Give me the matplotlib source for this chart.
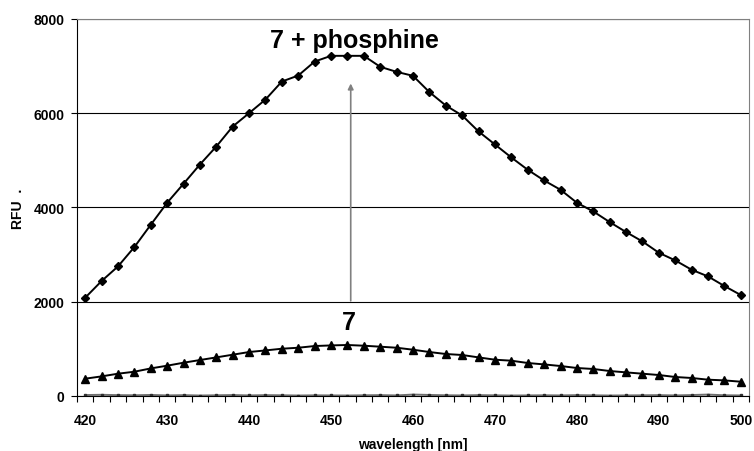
import matplotlib.pyplot as plt
import numpy as np

plt.rcParams['font.family'] = ['Liberation Sans', 'DejaVu Sans']
plt.rcParams['font.weight'] = 'bold'

wavelength = np.arange(420, 501, 2)

# 7 + phosphine
rfu_phos = [2085, 2439, 2749, 3160, 3633, 4100, 4503, 4912, 5294, 5718,
            6002, 6291, 6673, 6800, 7097, 7218, 7218, 7218, 6985, 6878,
            6794, 6448, 6164, 5952, 5613, 5337, 5061, 4800, 4573, 4376,
            4100, 3916, 3690, 3478, 3279, 3039, 2877, 2679, 2537, 2333, 2142]

# 7 alone
rfu_7 = [367, 416, 473, 515, 585, 643, 706, 763, 819, 876,
         933, 967, 1003, 1024, 1060, 1073, 1082, 1067, 1046, 1024,
         982, 933, 891, 870, 819, 770, 749, 700, 670, 636,
         594, 573, 530, 501, 473, 445, 403, 382, 346, 331, 303]

# blank
rfu_blank = [20, 25, 18, 15, 22, 12, 18, 10, 15, 20,
             12, 18, 15, 10, 14, 12, 10, 15, 18, 12,
             30, 22, 15, 12, 18, 14, 10, 12, 15, 12,
             18, 14, 10, 12, 15, 18, 12, 20, 30, 15, 12]

fig = plt.figure(figsize=(7.54, 4.52), dpi=100)
ax = fig.add_axes([0.1021, 0.1217, 0.8913, 0.8341])

ax.plot(wavelength, rfu_blank, color="#707070", lw=1.4, marker="s", ms=1.5,
        mfc="#303030", mec="#303030")
ax.plot(wavelength, rfu_7, color="black", lw=1.4, marker="^", ms=5.5)
ax.plot(wavelength, rfu_phos, color="black", lw=1.4, marker="D", ms=4)

ax.set_xlim(419, 501)
ax.set_ylim(0, 8000)

ax.set_yticks([0, 2000, 4000, 6000, 8000])
ax.grid(axis="y", color="black", lw=0.8)
ax.set_axisbelow(True)

ax.set_xticks(np.arange(420, 501, 10))
ax.set_xticks(np.arange(419, 502, 2), minor=True)
ax.tick_params(axis="x", which="major", length=0, pad=12, labelsize=10)
ax.tick_params(axis="x", which="minor", length=4, direction="out", width=0.8)
ax.tick_params(axis="y", length=4, direction="out", width=0.8, pad=5, labelsize=10)

for lab in ax.get_xticklabels() + ax.get_yticklabels():
    lab.set_fontweight("bold")

ax.spines["left"].set_color("black")
ax.spines["bottom"].set_color("black")
ax.spines["top"].set_color("#808080")
ax.spines["right"].set_color("#808080")

ax.annotate("", xy=(452.4, 6690), xytext=(452.4, 1960),
            arrowprops=dict(arrowstyle="-|>", color="#808080", lw=1.2,
                            mutation_scale=8))

ax.text(452.9, 7560, "7 + phosphine", ha="center", va="center",
        fontsize=18, fontweight="bold")
ax.text(452.2, 1580, "7", ha="center", va="center",
        fontsize=18, fontweight="bold")

ax.set_xlabel("wavelength [nm]", fontsize=10, fontweight="bold")
ax.set_ylabel("RFU  .", fontsize=10, fontweight="bold")
ax.xaxis.set_label_coords(0.5, -0.108)
ax.yaxis.set_label_coords(-0.078, 0.5)

plt.savefig("out.png", dpi=100)
